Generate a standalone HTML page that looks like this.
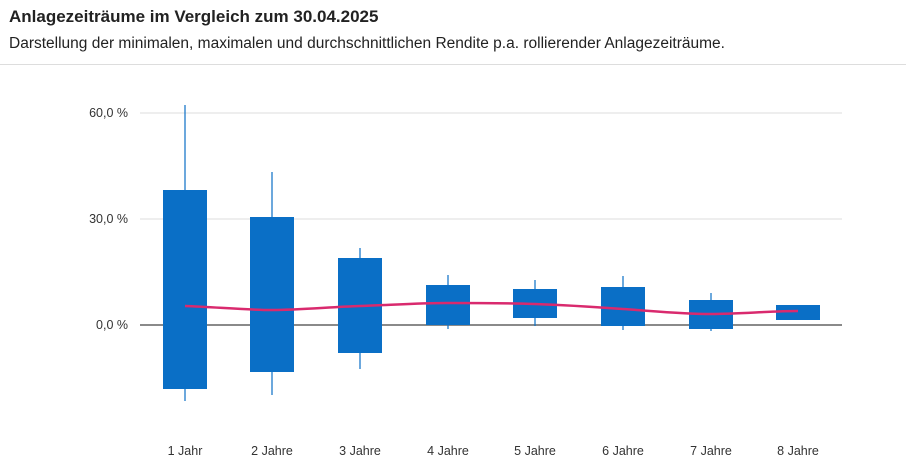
<!DOCTYPE html>
<html><head><meta charset="utf-8"><style>
body{margin:0;width:906px;height:468px;background:#fff;font-family:"Liberation Sans",sans-serif;overflow:hidden}
.t{position:absolute;left:9px;top:7px;font-size:17px;font-weight:bold;color:#222}
.s{position:absolute;left:9px;top:35px;font-size:15.5px;color:#222}
.hr{position:absolute;left:0;top:64px;width:906px;height:1px;background:#ddd}
svg{position:absolute;left:0;top:0}
</style></head><body>
<div class="t">Anlagezeiträume im Vergleich zum 30.04.2025</div>
<div class="s">Darstellung der minimalen, maximalen und durchschnittlichen Rendite p.a. rollierender Anlagezeiträume.</div>
<div class="hr"></div>
<svg width="906" height="468" font-family="Liberation Sans, sans-serif" font-size="12.5" fill="#333">
<line x1="140" x2="842" y1="113" y2="113" stroke="#ddd"/>
<line x1="140" x2="842" y1="219" y2="219" stroke="#ddd"/>
<line x1="140" x2="842" y1="325" y2="325" stroke="#444" stroke-width="1.2"/>
<text x="128" y="117" text-anchor="end">60,0 %</text>
<text x="128" y="223" text-anchor="end">30,0 %</text>
<text x="128" y="329" text-anchor="end">0,0 %</text>
<g stroke="#0a6fc6" stroke-width="1.2">
<line x1="185" x2="185" y1="105" y2="401"/>
<line x1="272" x2="272" y1="172" y2="395"/>
<line x1="360" x2="360" y1="248" y2="369"/>
<line x1="448" x2="448" y1="275" y2="329"/>
<line x1="535" x2="535" y1="280" y2="326"/>
<line x1="623" x2="623" y1="276" y2="330"/>
<line x1="711" x2="711" y1="293" y2="331"/>
</g>
<g fill="#0a6fc6">
<rect x="163" y="190" width="44" height="199"/>
<rect x="250" y="217" width="44" height="155"/>
<rect x="338" y="258" width="44" height="95"/>
<rect x="426" y="285" width="44" height="40"/>
<rect x="513" y="289" width="44" height="29"/>
<rect x="601" y="287" width="44" height="39"/>
<rect x="689" y="300" width="44" height="29"/>
<rect x="776" y="305" width="44" height="15"/>
</g>
<path d="M185,306 C215,307 245,310 272,310 C300,310 330,307 360,306 C390,305 420,303 448,303 C478,303 508,303 535,304 C565,305 595,307 623,309 C653,311 683,314 711,314 C740,314 770,311 798,311" fill="none" stroke="#d92a6e" stroke-width="2.5"/>
<g text-anchor="middle">
<text x="185" y="455">1 Jahr</text>
<text x="272" y="455">2 Jahre</text>
<text x="360" y="455">3 Jahre</text>
<text x="448" y="455">4 Jahre</text>
<text x="535" y="455">5 Jahre</text>
<text x="623" y="455">6 Jahre</text>
<text x="711" y="455">7 Jahre</text>
<text x="798" y="455">8 Jahre</text>
</g>
</svg>
</body></html>
